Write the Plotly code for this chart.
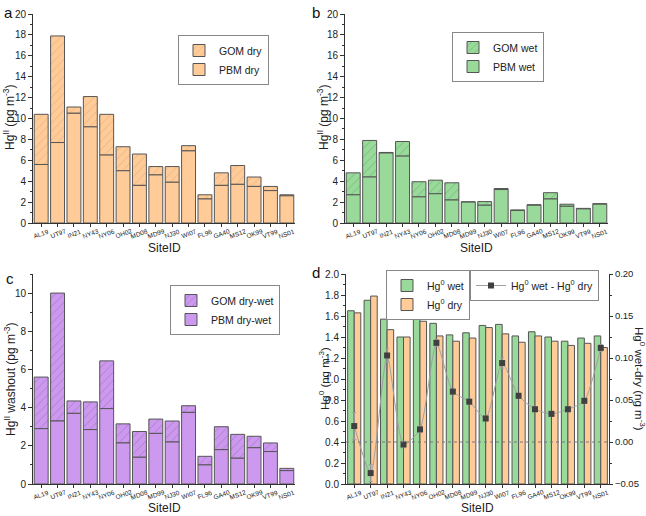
import plotly.graph_objects as go

sites = ["AL19", "UT97", "IN21", "NY43", "NY06", "OH02", "MD08", "MD99",
         "NJ30", "WI07", "FL96", "GA40", "MS12", "OK99", "VT99", "NS01"]

# Panel a: dry
pbm_dry = [5.6, 7.7, 10.5, 9.2, 6.5, 5.0, 3.6, 4.6, 3.9, 6.9, 2.3, 3.6, 3.7, 3.5, 3.1, 2.6]
gom_dry = [4.8, 10.2, 0.6, 2.9, 3.9, 2.3, 3.0, 0.8, 1.5, 0.5, 0.4, 1.2, 1.8, 0.9, 0.4, 0.1]

# Panel b: wet
pbm_wet = [2.7, 4.4, 6.7, 6.4, 2.5, 2.8, 2.2, 2.0, 1.7, 3.2, 1.2, 1.7, 2.3, 1.6, 1.35, 1.8]
gom_wet = [2.1, 3.5, 0.05, 1.4, 1.45, 1.3, 1.65, 0.03, 0.35, 0.1, 0.05, 0.05, 0.6, 0.2, 0.05, 0.05]

# Panel c: dry-wet washout
pbm_dw = [2.9, 3.3, 3.7, 2.85, 3.95, 2.15, 1.4, 2.65, 2.2, 3.75, 1.0, 1.8, 1.35, 1.9, 1.7, 0.7]
gom_dw = [2.7, 6.7, 0.65, 1.45, 2.5, 1.0, 1.35, 0.75, 1.1, 0.35, 0.45, 1.2, 1.25, 0.6, 0.45, 0.12]

# Panel d: Hg0
hg0_wet = [1.65, 1.75, 1.57, 1.40, 1.57, 1.53, 1.42, 1.44, 1.51, 1.52, 1.41, 1.45, 1.40, 1.36, 1.39, 1.41]
hg0_dry = [1.63, 1.79, 1.47, 1.40, 1.55, 1.41, 1.36, 1.39, 1.49, 1.43, 1.35, 1.41, 1.36, 1.32, 1.34, 1.30]
hg0_diff = [0.019, -0.037, 0.103, -0.003, 0.015, 0.118, 0.060, 0.048, 0.028, 0.094,
            0.055, 0.039, 0.0335, 0.039, 0.049, 0.112]
hg0_diff_err = [0.016, 0.010, 0.008, 0.004, 0.004, 0.004, 0.003, 0.003, 0.003, 0.006,
                0.003, 0.003, 0.003, 0.003, 0.003, 0.004]

ORANGE = "#FFCC99"
ORANGE_H = "#C98A52"
GREEN = "#99D99A"
GREEN_H = "#3E8E45"
PURPLE = "#CC99EE"
PURPLE_H = "#7A4B9C"
EDGE = "#555555"
FONT = "Liberation Sans, Arial, sans-serif"

W, H = 646, 516
fig = go.Figure()

def stacked(xa, ya, pbm, gom, fill, hatch, names, legend):
    base_line = dict(color=EDGE, width=1)
    fig.add_trace(go.Bar(
        x=sites, y=gom, base=pbm, name=names[0], xaxis=xa, yaxis=ya, width=0.85,
        marker=dict(color=fill, line=base_line,
                    pattern=dict(shape="/", fgcolor=hatch, bgcolor=fill, size=6, solidity=0.12)),
        legend=legend))
    fig.add_trace(go.Bar(
        x=sites, y=pbm, name=names[1], xaxis=xa, yaxis=ya, width=0.85,
        marker=dict(color=fill, line=base_line), legend=legend))

stacked("x", "y", pbm_dry, gom_dry, ORANGE, ORANGE_H, ["GOM dry", "PBM dry"], "legend")
stacked("x2", "y2", pbm_wet, gom_wet, GREEN, GREEN_H, ["GOM wet", "PBM wet"], "legend2")
stacked("x3", "y3", pbm_dw, gom_dw, PURPLE, PURPLE_H, ["GOM dry-wet", "PBM dry-wet"], "legend3")

fig.add_trace(go.Bar(
    x=sites, y=hg0_wet, name="Hg<sup>0</sup> wet", xaxis="x4", yaxis="y4",
    width=0.4, offset=-0.4, marker=dict(color=GREEN, line=dict(color=EDGE, width=1)),
    legend="legend4"))
fig.add_trace(go.Bar(
    x=sites, y=hg0_dry, name="Hg<sup>0</sup> dry", xaxis="x4", yaxis="y4",
    width=0.4, offset=0.0, marker=dict(color=ORANGE, line=dict(color=EDGE, width=1)),
    legend="legend4"))
fig.add_trace(go.Scatter(
    x=sites, y=hg0_diff, name="Hg<sup>0</sup> wet - Hg<sup>0</sup> dry",
    xaxis="x4", yaxis="y5", mode="lines+markers",
    line=dict(color="#A0A0A0", width=1, shape="spline", smoothing=0.6),
    marker=dict(symbol="square", size=6, color="#404040"),
    error_y=dict(type="data", array=hg0_diff_err, color="#A0A0A0", thickness=1, width=2),
    legend="legend5"))

tickfont = dict(family=FONT, size=10, color="#222")
rtickfont = dict(family=FONT, size=9.5, color="#222")
xtickfont = dict(family=FONT, size=6.5, color="#222")
titlefont = dict(family=FONT, size=12, color="#222")
titlefont_s = dict(family=FONT, size=11.5, color="#222")

def xax(domain, anchor):
    return dict(domain=domain, anchor=anchor, type="category", categoryorder="array",
                categoryarray=sites, range=[-0.5, 15.5], showline=True, linecolor="#333",
                linewidth=1, ticks="outside", ticklen=3, tickcolor="#333",
                showticklabels=False, showgrid=False, zeroline=False, automargin=False)

def yax(domain, anchor, rng, dtick, minor_dtick, fmt=None):
    d = dict(domain=domain, anchor=anchor, range=rng, dtick=dtick, tick0=0,
             showline=True, linecolor="#333", linewidth=1, ticks="outside", ticklen=4,
             tickcolor="#333", tickfont=tickfont, showgrid=False, zeroline=False,
             automargin=False,
             minor=dict(dtick=minor_dtick, ticks="outside", ticklen=2, tickcolor="#333"))
    if fmt:
        d["tickformat"] = fmt
    return d

xa_dom = [33/W, 295/W]
xb_dom = [345/W, 608/W]
xd_dom = [346/W, 609/W]
ytop = [1-223/H, 1-14/H]
ybot = [1-484/H, 1-274/H]

fig.update_layout(
    width=W, height=H, margin=dict(l=0, r=0, t=0, b=0, autoexpand=False),
    paper_bgcolor="white", plot_bgcolor="white", barmode="overlay",
    font=dict(family=FONT, color="#222"),
    xaxis=xax(xa_dom, "y"),
    yaxis=yax(ytop, "x", [0, 20], 2, 1),
    xaxis2=xax(xb_dom, "y2"),
    yaxis2=yax(ytop, "x2", [0, 20], 2, 1),
    xaxis3=xax(xa_dom, "y3"),
    yaxis3=yax(ybot, "x3", [0, 11], 2, 1),
    xaxis4=xax(xd_dom, "y4"),
    yaxis4=yax(ybot, "x4", [0, 2.0], 0.2, 0.1, ".1f"),
    yaxis5=dict(overlaying="y4", anchor="x4", side="right", range=[-0.05, 0.2],
                dtick=0.05, tick0=0, tickformat=".2f", showline=True, linecolor="#333",
                linewidth=1, ticks="outside", ticklen=3, tickcolor="#333", tickfont=rtickfont,
                showgrid=False, zeroline=False, automargin=False,
                minor=dict(dtick=0.025, ticks="outside", ticklen=2, tickcolor="#333")),
    showlegend=True,
)

leg_common = dict(bgcolor="white", bordercolor="#888", borderwidth=1,
                  font=dict(family=FONT, size=10.5, color="#222"),
                  xanchor="left", yanchor="top", tracegroupgap=0, itemwidth=30)
fig.update_layout(
    legend=dict(x=178/W, y=1-35/H, **leg_common),
    legend2=dict(x=452/W, y=1-32/H, **leg_common),
    legend3=dict(x=170/W, y=1-285/H, **leg_common),
    legend4=dict(x=386/W, y=1-270/H, **leg_common),
    legend5=dict(x=470/W, y=1-270/H, **leg_common),
)

fig.add_shape(type="line", xref="x4 domain", yref="y5", x0=0, x1=1, y0=0, y1=0,
              line=dict(color="#777", width=1, dash="dot"))

def pann(text, x, y, angle=0, font=titlefont, xa="center", ya="middle"):
    fig.add_annotation(text=text, x=x/W, y=1-y/H, xref="paper", yref="paper",
                       textangle=angle, showarrow=False, xanchor=xa, yanchor=ya, font=font)

letter_font = dict(family=FONT, size=15, color="#111")
pann("a", 2, 2, font=letter_font, xa="left", ya="top")
pann("b", 310, 2, font=letter_font, xa="left", ya="top")
pann("c", 4, 268, font=letter_font, xa="left", ya="top")
pann("d", 310, 262, font=letter_font, xa="left", ya="top")

# category tick labels, centred under each tick and tilted
for xref, ypix in (("x", 233), ("x2", 233), ("x3", 494), ("x4", 494)):
    for s in sites:
        fig.add_annotation(text=s, x=s, xref=xref, y=1-ypix/H, yref="paper",
                           textangle=-20, showarrow=False, xanchor="center",
                           yanchor="middle", font=xtickfont)

# axis titles
pann("SiteID", 164, 248)
pann("SiteID", 476, 248)
pann("SiteID", 164, 508)
pann("SiteID", 477, 508)
pann("Hg<sup>II</sup> (pg m<sup>-3</sup>)", 9, 118, angle=-90)
pann("Hg<sup>II</sup> (pg m<sup>-3</sup>)", 323, 118, angle=-90)
pann("Hg<sup>II</sup> washout (pg m<sup>-3</sup>)", 10, 379, angle=-90)
pann("Hg<sup>0</sup> (ng m<sup>-3</sup>)", 324, 379, angle=-90, font=titlefont_s)
pann("Hg<sup>0</sup> wet-dry (ng m<sup>-3</sup>)", 640, 379, angle=90, font=titlefont_s)

fig.write_html("out.html", config={"displayModeBar": False},
               post_script="document.body.style.margin='0px';document.body.style.overflow='hidden';")
